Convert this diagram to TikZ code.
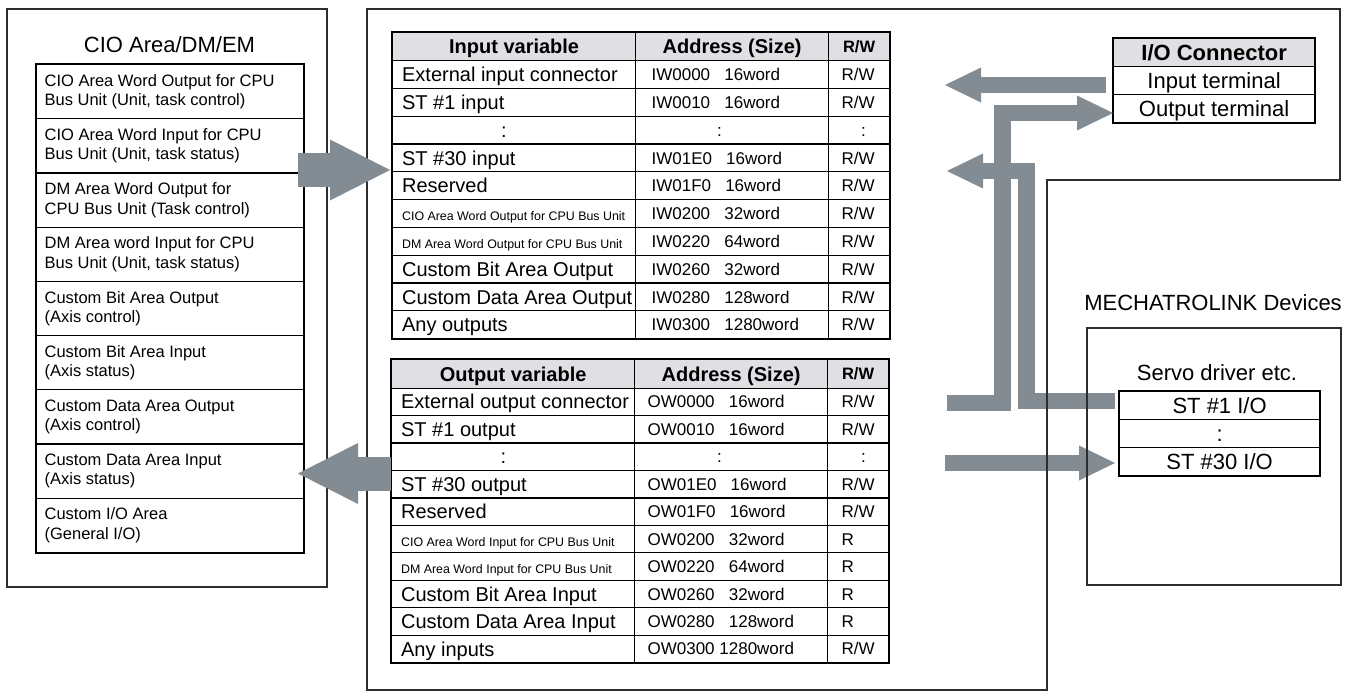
\documentclass[tikz,border=0pt]{standalone}
\usepackage{fontspec}
\setmainfont{Liberation Sans}
\usetikzlibrary{arrows.meta}

\definecolor{flowgray}{RGB}{131,139,147}
\definecolor{headgray}{RGB}{224,224,228}
\definecolor{linegray}{RGB}{45,45,45}

\newcommand{\setfs}[2]{\fontsize{#1}{#2}\selectfont}
\newcommand{\colonat}[1]{\hspace*{#1pt}:}

\tikzset{
  outline/.style={draw=linegray, line width=1.5pt, line cap=rect},
  frame/.style={draw=black, line width=2pt},
  lbl/.style={inner sep=0pt, text depth=0pt},
  tcell/.style={draw=black, line width=1.2pt, anchor=north west, inner ysep=0pt, text depth=0pt},
  ciocell/.style={draw=black, line width=1.2pt, anchor=north west, minimum width=267pt,
    minimum height=54.2pt, inner xsep=8pt, inner ysep=0pt, text width=251pt,
    align=flush left, font=\setfs{16.5}{19.3}},
  varcell/.style={tcell, minimum width=243pt, minimum height=#1, inner xsep=9.5pt,
    text width=224pt, align=flush left, text height=14.3pt, font=\setfs{20}{24}},
  adrcell/.style={tcell, minimum width=193pt, minimum height=#1, inner xsep=16pt,
    text width=161pt, align=flush left, text height=12.2pt, font=\setfs{17}{20}},
  rwcell/.style={tcell, minimum width=61pt, minimum height=#1, inner xsep=13pt,
    text width=35pt, align=flush left, text height=12.2pt, font=\setfs{17}{20}},
  headcell/.style={tcell, fill=headgray, inner xsep=0pt, align=flush center,
    text height=14.3pt, font=\bfseries\setfs{20}{24}},
  iocell/.style={tcell, minimum width=201pt, minimum height=28pt, text height=15.8pt,
    font=\setfs{22}{26}},
  stcell/.style={tcell, minimum width=200pt, minimum height=28pt, text height=15.8pt,
    font=\setfs{22}{26}},
  bigflow/.style={draw=flowgray, line width=34pt,
    -{Triangle[length=60pt,width=61pt,line width=0pt]}},
  smallflow/.style={draw=flowgray, line width=16.5pt, line join=miter,
    -{Triangle[length=36pt,width=35pt,line width=0pt]}}
}

\begin{document}
\begin{tikzpicture}[x=1pt, y=-1pt]
\useasboundingbox (0,0) rectangle (1348,693);

% surrounding boxes (right hand edges come after the arrows)
\draw[outline] (7,9) rectangle (327,587);
\draw[outline] (1047,690) -- (367,690) -- (367,9) -- (1340,9);

% CIO Area/DM/EM
\node[lbl, text height=15.8pt, font=\setfs{22}{26}] (cio-title) at (169.5,45) {CIO Area/DM/EM};
\foreach \t [count=\i from 0] in {
  {CIO Area Word Output for CPU\\Bus Unit (Unit, task control)},
  {CIO Area Word Input for CPU\\Bus Unit (Unit, task status)},
  {DM Area Word Output for\\CPU Bus Unit (Task control)},
  {DM Area word Input for CPU\\Bus Unit (Unit, task status)},
  {Custom Bit Area Output\\(Axis control)},
  {Custom Bit Area Input\\(Axis status)},
  {Custom Data Area Output\\(Axis control)},
  {Custom Data Area Input\\(Axis status)},
  {Custom I/O Area\\(General I/O)}}
  \node[ciocell] (cio\i) at (36,64+54.2*\i) {\t};
\draw[frame] (cio0.north west) rectangle (cio8.south east);

% input variables
\node[headcell, minimum width=243pt, text width=243pt, minimum height=28pt] (in-hv) at (392,32) {Input variable};
\node[headcell, minimum width=193pt, text width=193pt, minimum height=28pt] (in-ha) at (635,32) {Address (Size)};
\node[headcell, minimum width=61pt, text width=61pt, minimum height=28pt, text height=11.8pt,
  font=\bfseries\setfs{16.5}{20}] (in-hr) at (828,32) {R/W};
\foreach \v/\a/\r [count=\i from 0] in {
  {External input connector}/{IW0000~~~16word}/{R/W},
  {ST \#1 input}/{IW0010~~~16word}/{R/W},
  {\colonat{99}}/{\colonat{65.5}}/{\colonat{19.5}},
  {ST \#30 input}/{IW01E0~~~16word}/{R/W},
  {Reserved}/{IW01F0~~~16word}/{R/W},
  {\setfs{12.4}{15}\mbox{CIO Area Word Output for CPU Bus Unit}}/{IW0200~~~32word}/{R/W},
  {\setfs{12.4}{15}\mbox{DM Area Word Output for CPU Bus Unit}}/{IW0220~~~64word}/{R/W},
  {Custom Bit Area Output}/{IW0260~~~32word}/{R/W},
  {\mbox{Custom Data Area Output}}/{IW0280~~~128word}/{R/W},
  {Any outputs}/{IW0300~~~1280word}/{R/W}}{
  \node[varcell=27.8pt] (in-v\i) at (392,60+27.8*\i) {\v};
  \node[adrcell=27.8pt] (in-a\i) at (635,60+27.8*\i) {\a};
  \node[rwcell=27.8pt] (in-r\i) at (828,60+27.8*\i) {\r};
}
\draw[frame] (in-hv.north west) rectangle (in-r9.south east);

% output variables
\node[headcell, minimum width=243pt, text width=243pt, minimum height=28.5pt] (out-hv) at (391,359) {Output variable};
\node[headcell, minimum width=193pt, text width=193pt, minimum height=28.5pt] (out-ha) at (634,359) {Address (Size)};
\node[headcell, minimum width=61pt, text width=61pt, minimum height=28.5pt, text height=11.8pt,
  font=\bfseries\setfs{16.5}{20}] (out-hr) at (827,359) {R/W};
\foreach \v/\a/\r [count=\i from 0] in {
  {\mbox{External output connector}}/{OW0000~~~16word}/{R/W},
  {ST \#1 output}/{OW0010~~~16word}/{R/W},
  {\colonat{99.5}}/{\colonat{69.5}}/{\colonat{19.5}},
  {ST \#30 output}/{OW01E0~~~16word}/{R/W},
  {Reserved}/{OW01F0~~~16word}/{R/W},
  {\setfs{12.4}{15}\mbox{CIO Area Word Input for CPU Bus Unit}}/{OW0200~~~32word}/{R},
  {\setfs{12.4}{15}\mbox{DM Area Word Input for CPU Bus Unit}}/{OW0220~~~64word}/{R},
  {Custom Bit Area Input}/{OW0260~~~32word}/{R},
  {\mbox{Custom Data Area Input}}/{OW0280~~~128word}/{R},
  {Any inputs}/{OW0300~1280word}/{R/W}}{
  \node[varcell=27.45pt] (out-v\i) at (391,387.5+27.45*\i) {\v};
  \node[adrcell=27.45pt, inner xsep=13pt, text width=167pt] (out-a\i) at (634,387.5+27.45*\i) {\a};
  \node[rwcell=27.45pt, inner xsep=14pt, text width=33pt] (out-r\i) at (827,387.5+27.45*\i) {\r};
}
\draw[frame] (out-hv.north west) rectangle (out-r9.south east);

% I/O connector
\node[headcell, minimum width=201pt, text width=201pt, minimum height=28pt, text height=15.8pt,
  font=\bfseries\setfs{22}{26}] (io-h) at (1113,38) {I/O Connector};
\node[iocell] (io-in) at (1113,66) {Input terminal};
\node[iocell] (io-out) at (1113,94) {Output terminal};
\draw[frame] (io-h.north west) rectangle (io-out.south east);

% MECHATROLINK devices
\node[lbl, text height=15.8pt, font=\setfs{22}{26}] (mlink) at (1213,302.5) {MECHATROLINK Devices};
\node[lbl, text height=15.8pt, font=\setfs{22}{26}] (servo) at (1217,372.5) {Servo driver etc.};
\node[stcell] (st1) at (1119,391) {ST \#1 I/O};
\node[stcell] (st-dots) at (1119,419) {:};
\node[stcell] (st30) at (1119,447) {ST \#30 I/O};
\draw[frame] (st1.north west) rectangle (st30.south east);

% arrow end points
\coordinate (wr-from) at (298,170);
\coordinate (wr-to) at (390,170);
\coordinate (rd-from) at (391,473.5);
\coordinate (rd-to) at (298,473.5);
\coordinate (ioin-from) at (1106,85);
\coordinate (ioin-to) at (945,85);
\coordinate (ioout-from) at (947,403);
\coordinate (ioout-to) at (1113,113);
\coordinate (stin-from) at (1115,401);
\coordinate (stin-to) at (947,171);
\coordinate (stout-from) at (945,463);
\coordinate (stout-to) at (1115,463);

% data flow
\draw[bigflow] (wr-from) -- (wr-to);
\draw[bigflow] (rd-from) -- (rd-to);
\draw[smallflow] (ioin-from) -- (ioin-to);
\draw[smallflow] (ioout-from) -- (1002.5,403) |- (ioout-to);
\draw[smallflow] (stin-from) -- (1026.5,401) |- (stin-to);
\draw[smallflow] (stout-from) -- (stout-to);

% edges lying over the arrows
\draw[outline] (1340,9) -- (1340,180) -- (1047,180) -- (1047,690);
\draw[outline] (1087,328) rectangle (1341,585);
\end{tikzpicture}
\end{document}
